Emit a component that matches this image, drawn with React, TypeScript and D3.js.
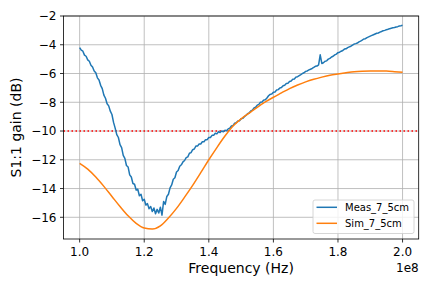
import React, { useEffect, useRef } from 'react';
import * as d3 from 'd3';

const width = 432;
const height = 288;
const margin = { top: 16, left: 63.5, bottom: 49, right: 13.3 };

// frequency in units of 1e8 Hz
const xTicks = [1.0, 1.2, 1.4, 1.6, 1.8, 2.0];
const yTicks = [-16, -14, -12, -10, -8, -6, -4, -2];
const seriesNames = ['Meas_7_5cm', 'Sim_7_5cm'];
const threshold = -10;

// measured S11, sampled every 0.005e8 Hz from 1.0e8 to 2.0e8
const measStart = 1.0;
const measStep = 0.005;
const measGain = [
  -4.20, -4.38, -4.45, -4.72, -4.80, -5.05, -5.15, -5.42, -5.55, -5.82,
  -5.95, -6.30, -6.45, -6.82, -7.05, -7.50, -7.72, -8.10, -8.25, -8.62,
  -8.85, -9.40, -9.80, -10.25, -10.45, -10.95, -11.15, -11.70, -11.90, -12.40,
  -12.50, -13.05, -13.20, -13.65, -13.70, -14.10, -14.05, -14.50, -14.40, -14.85,
  -14.75, -15.15, -15.05, -15.40, -15.25, -15.60, -15.35, -15.75, -15.45, -15.70,
  -15.30, -15.85, -14.90, -15.10, -14.55, -14.40, -13.95, -13.75, -13.35, -13.25,
  -12.85, -12.75, -12.45, -12.35, -12.15, -12.05, -11.85, -11.80, -11.55, -11.50,
  -11.30, -11.25, -11.05, -11.05, -10.90, -10.90, -10.75, -10.75, -10.60, -10.60,
  -10.45, -10.45, -10.30, -10.30, -10.15, -10.20, -10.05, -10.10, -10.00, -10.05,
  -9.95, -9.98, -9.85, -9.80, -9.65, -9.62, -9.45, -9.42, -9.30, -9.28,
  -9.15, -9.12, -9.00, -8.92, -8.80, -8.75, -8.60, -8.55, -8.40, -8.35,
  -8.20, -8.15, -8.00, -7.98, -7.85, -7.82, -7.70, -7.55, -7.45, -7.42,
  -7.30, -7.28, -7.15, -7.12, -7.00, -6.98, -6.85, -6.82, -6.70, -6.68,
  -6.55, -6.52, -6.40, -6.38, -6.25, -6.22, -6.15, -6.08, -6.00, -5.95,
  -5.85, -5.82, -5.75, -5.70, -5.65, -5.58, -5.50, -5.48, -5.40, -4.70,
  -5.30, -5.25, -5.15, -5.12, -5.00, -4.95, -4.85, -4.80, -4.70, -4.65,
  -4.55, -4.52, -4.45, -4.40, -4.30, -4.28, -4.20, -4.15, -4.10, -4.02,
  -3.95, -3.92, -3.88, -3.80, -3.75, -3.68, -3.60, -3.58, -3.50, -3.45,
  -3.40, -3.35, -3.30, -3.25, -3.20, -3.18, -3.12, -3.08, -3.02, -3.00,
  -2.95, -2.92, -2.88, -2.85, -2.82, -2.80, -2.76, -2.74, -2.70, -2.68,
  -2.65
];

// simulated S11
const simFreq = [
  1.000, 1.025, 1.050, 1.075, 1.100, 1.125, 1.150, 1.175, 1.200, 1.225,
  1.250, 1.275, 1.300, 1.325, 1.350, 1.375, 1.400, 1.425, 1.450, 1.475,
  1.500, 1.525, 1.550, 1.575, 1.600, 1.625, 1.650, 1.675, 1.700, 1.725,
  1.750, 1.775, 1.800, 1.825, 1.850, 1.875, 1.900, 1.925, 1.950, 1.975, 2.000
];
const simGain = [
  -12.25, -12.65, -13.20, -13.85, -14.55, -15.25, -15.90, -16.42, -16.75, -16.82,
  -16.60, -16.05, -15.38, -14.60, -13.78, -12.90, -12.00, -11.15, -10.35, -9.65,
  -9.15, -8.75, -8.35, -7.98, -7.65, -7.35, -7.05, -6.80, -6.58, -6.40,
  -6.25, -6.12, -6.03, -5.95, -5.88, -5.84, -5.82, -5.82, -5.83, -5.87, -5.92
];

const colors = ['#1f77b4', '#ff7f0e'];
const font = 'DejaVu Sans, sans-serif';
const fmt = (v: number) => d3.format('.0f')(v).replace('-', '\u2212');

const App = () => {
  const svgR = useRef<SVGSVGElement>(null);

  useEffect(() => {
    const svg = d3.select(svgR.current);
    svg.selectAll('*').remove();

    const x = d3.scaleLinear().domain([0.95, 2.05]).range([margin.left, width - margin.right]);
    const y = d3.scaleLinear().domain([-17.51, -2]).range([height - margin.bottom, margin.top]);

    const meas = measGain.map((g, i) => ({ f: measStart + i * measStep, g }));
    const sim = simGain.map((g, i) => ({ f: simFreq[i], g }));

    const x0 = margin.left, x1 = width - margin.right;
    const y0 = margin.top, y1 = height - margin.bottom;

    // grid
    const grid = svg.append('g').attr('stroke', '#b0b0b0').attr('stroke-width', 0.8);
    xTicks.forEach(t => grid.append('line').attr('x1', x(t)).attr('x2', x(t)).attr('y1', y0).attr('y2', y1));
    yTicks.forEach(t => grid.append('line').attr('x1', x0).attr('x2', x1).attr('y1', y(t)).attr('y2', y(t)));

    // threshold
    svg.append('line')
      .attr('x1', x0).attr('x2', x1)
      .attr('y1', y(threshold)).attr('y2', y(threshold))
      .attr('stroke', 'red').attr('stroke-width', 1.5)
      .attr('stroke-dasharray', '1.5,2.5');

    const line = d3.line<{ f: number; g: number }>().x(d => x(d.f)).y(d => y(d.g));
    const smooth = d3.line<{ f: number; g: number }>().x(d => x(d.f)).y(d => y(d.g)).curve(d3.curveMonotoneX);

    svg.append('path').attr('d', line(meas)).attr('fill', 'none')
      .attr('stroke', colors[0]).attr('stroke-width', 1.5).attr('stroke-linejoin', 'round');
    svg.append('path').attr('d', smooth(sim)).attr('fill', 'none')
      .attr('stroke', colors[1]).attr('stroke-width', 1.5);

    // frame
    svg.append('rect').attr('x', x0).attr('y', y0).attr('width', x1 - x0).attr('height', y1 - y0)
      .attr('fill', 'none').attr('stroke', 'black').attr('stroke-width', 0.8);

    // x axis
    const xa = svg.append('g').attr('font-family', font).attr('font-size', 12);
    xTicks.forEach(t => {
      xa.append('line').attr('x1', x(t)).attr('x2', x(t)).attr('y1', y1).attr('y2', y1 + 3.5)
        .attr('stroke', 'black').attr('stroke-width', 0.8);
      xa.append('text').attr('x', x(t)).attr('y', y1 + 16.5).attr('text-anchor', 'middle').text(d3.format('.1f')(t));
    });
    xa.append('text').attr('x', x1).attr('y', 272).attr('text-anchor', 'end').text('1e8');

    // y axis
    const ya = svg.append('g').attr('font-family', font).attr('font-size', 12);
    yTicks.forEach(t => {
      ya.append('line').attr('x1', x0 - 3.5).attr('x2', x0).attr('y1', y(t)).attr('y2', y(t))
        .attr('stroke', 'black').attr('stroke-width', 0.8);
      ya.append('text').attr('x', x0 - 7).attr('y', y(t) + 4.4).attr('text-anchor', 'end').text(fmt(t));
    });

    svg.append('text').attr('x', (x0 + x1) / 2).attr('y', 273).attr('text-anchor', 'middle')
      .attr('font-family', font).attr('font-size', 14).text('Frequency (Hz)');
    svg.append('text').attr('transform', `translate(20.5,${(y0 + y1) / 2}) rotate(-90)`)
      .attr('text-anchor', 'middle').attr('font-family', font).attr('font-size', 14).text('S1:1 gain (dB)');

    // legend
    const lg = svg.append('g');
    lg.append('rect').attr('x', 313).attr('y', 200).attr('width', 101).attr('height', 33.5)
      .attr('rx', 2).attr('fill', 'white').attr('fill-opacity', 0.8)
      .attr('stroke', '#cccccc').attr('stroke-width', 0.8);
    seriesNames.forEach((n, i) => {
      const ly = 207.3 + i * 16;
      lg.append('line').attr('x1', 316.5).attr('x2', 337).attr('y1', ly).attr('y2', ly)
        .attr('stroke', colors[i]).attr('stroke-width', 1.5);
      lg.append('text').attr('x', 345).attr('y', ly + 3.6).attr('font-family', font).attr('font-size', 10).text(n);
    });
  }, []);

  return (
    <svg ref={svgR} width={width} height={height}
      style={{ position: 'absolute', left: 0, top: 0, background: 'white' }} />
  );
};

export default App;
